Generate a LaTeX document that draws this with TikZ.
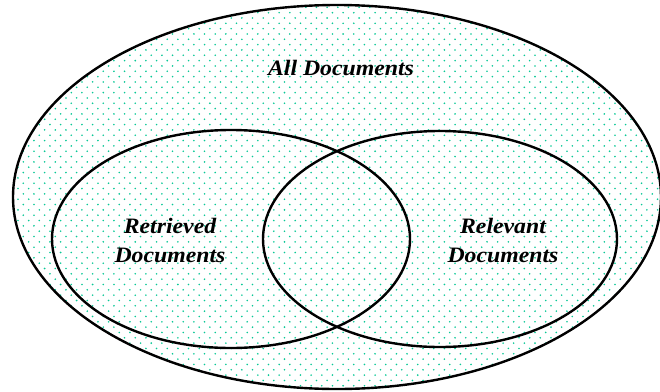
\documentclass[tikz,border=0pt]{standalone}
\usepackage{fontspec}
\setmainfont{Liberation Serif}
\definecolor{dotc}{RGB}{10,200,150}
\tikzset{
  setline/.style={line width=2.4pt, black},
  lbl/.style={font=\fontsize{22}{29}\selectfont\bfseries\itshape, align=center, xscale=1.08, inner sep=0pt}
}
\begin{document}
\begin{tikzpicture}[x=1pt,y=-1pt]
\useasboundingbox (0,0) rectangle (660,391);
\begin{scope}
  \clip (337,197) ellipse [x radius=324pt, y radius=192pt];
  \foreach \j in {0,...,74}{
    \pgfmathsetmacro\off{mod(\j,2)*5.33}
    \foreach \i in {0,...,62}{
      \fill[dotc] ({\i*10.66+\off+2},{\j*5.33+2}) circle[radius=0.9pt];
    }
  }
\end{scope}
\draw[setline] (337,197) ellipse [x radius=324pt, y radius=192pt];
\draw[setline] (231,239) ellipse [x radius=179pt, y radius=109pt];
\draw[setline] (440,239) ellipse [x radius=177pt, y radius=108pt];
\node[lbl] (all) at (341,68) {All Documents};
\node[lbl] (ret) at (170,240) {Retrieved\\Documents};
\node[lbl] (rel) at (503,240) {Relevant\\Documents};
\end{tikzpicture}
\end{document}
